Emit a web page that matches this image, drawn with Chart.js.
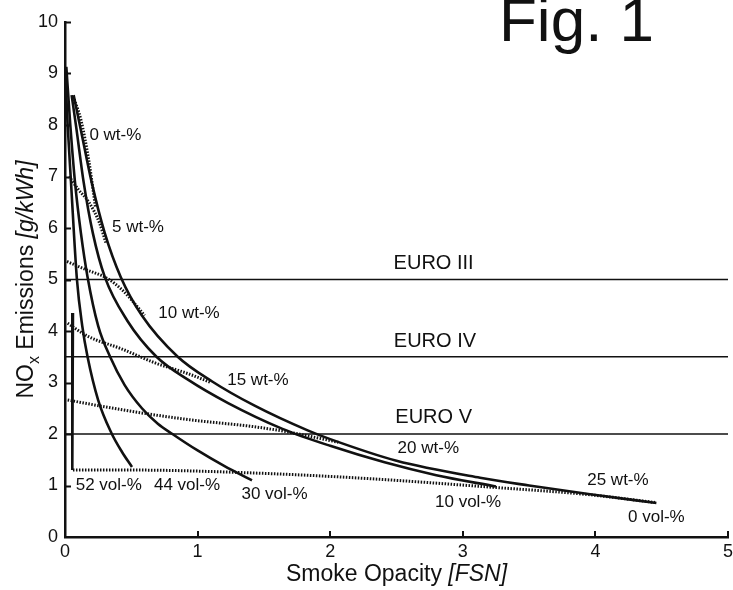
<!DOCTYPE html>
<html>
<head>
<meta charset="utf-8">
<script src="https://cdn.jsdelivr.net/npm/chart.js@4.4.1/dist/chart.umd.min.js"></script>
<style>
  html, body { margin: 0; padding: 0; background: #fff; }
  #wrap { width: 733px; height: 590px; }
</style>
</head>
<body>
<div id="wrap"><canvas id="nox" width="733" height="590"></canvas></div>
<script>
// NOx vs smoke opacity trade-off, Fig. 1

// solid curves: fuel blends (vol-%)
const vol52X = [0.06, 0.055];
const vol52Y = [4.35, 1.3];
const vol44X = [0.0, 0.02, 0.045, 0.09, 0.13, 0.17, 0.25, 0.35, 0.43, 0.505];
const vol44Y = [9.13, 8.0, 6.9, 5.0, 4.1, 3.5, 2.66, 2.02, 1.65, 1.36];
const vol30X = [0.01, 0.04, 0.075, 0.12, 0.17, 0.25, 0.34, 0.45, 0.58, 0.7, 0.81, 1.0, 1.2, 1.41];
const vol30Y = [9.13, 8.0, 6.9, 5.9, 5.05, 4.1, 3.5, 2.95, 2.5, 2.2, 2.0, 1.68, 1.38, 1.1];
const vol10X = [0.05, 0.085, 0.14, 0.21, 0.3, 0.47, 0.69, 0.93, 1.23, 1.64, 2.0, 2.41, 2.8, 3.25];
const vol10Y = [8.58, 7.95, 6.9, 5.9, 5.05, 4.2, 3.5, 3.05, 2.6, 2.1, 1.77, 1.45, 1.2, 0.98];
const vol0X = [0.065, 0.12, 0.2, 0.3, 0.42, 0.58, 0.85, 1.11, 1.43, 1.83, 2.0, 2.5, 3.13, 3.5, 3.96, 4.46];
const vol0Y = [8.58, 7.9, 6.9, 5.9, 5.05, 4.3, 3.5, 3.02, 2.55, 2.07, 1.9, 1.48, 1.15, 1.0, 0.83, 0.66];

// dotted lines: water content (wt-%)
const wt0X = [0.07, 0.12, 0.18, 0.23];
const wt0Y = [8.5, 8.1, 7.3, 6.4];
const wt5X = [0.03, 0.1, 0.18, 0.26, 0.31];
const wt5Y = [7.0, 6.75, 6.5, 6.1, 5.7];
const wt10X = [0.015, 0.15, 0.32, 0.43, 0.53, 0.6];
const wt10Y = [5.35, 5.2, 5.02, 4.8, 4.52, 4.3];
const wt15X = [0.02, 0.17, 0.43, 0.68, 0.93, 1.1];
const wt15Y = [4.15, 3.9, 3.65, 3.38, 3.17, 3.0];
const wt20X = [0.02, 0.43, 0.93, 1.43, 1.68, 2.06];
const wt20Y = [2.66, 2.47, 2.28, 2.14, 2.04, 1.84];
const wt25X = [0.06, 0.5, 1.45, 2.25, 3.2, 3.96, 4.45];
const wt25Y = [1.3, 1.3, 1.24, 1.14, 0.97, 0.82, 0.67];

// emission limits
const euroNames = ['EURO III', 'EURO IV', 'EURO V'];
const euroLimits = [5, 3.5, 2];

// text labels, anchored in data units
const curveLabels = [
  { text: '0 wt-%', x: 0.38, y: 7.8 },
  { text: '5 wt-%', x: 0.55, y: 6.02 },
  { text: '10 wt-%', x: 0.935, y: 4.35 },
  { text: '15 wt-%', x: 1.455, y: 3.05 },
  { text: '20 wt-%', x: 2.74, y: 1.73 },
  { text: '25 wt-%', x: 4.17, y: 1.1 },
  { text: '52 vol-%', x: 0.33, y: 1.01 },
  { text: '44 vol-%', x: 0.92, y: 1.01 },
  { text: '30 vol-%', x: 1.58, y: 0.82 },
  { text: '10 vol-%', x: 3.04, y: 0.68 },
  { text: '0 vol-%', x: 4.46, y: 0.39 }
];
const euroLabelX = [2.78, 2.79, 2.78];
const euroLabelY = [5.32, 3.79, 2.33];

const ink = '#111';
const face = "'Liberation Sans', Arial, Helvetica, sans-serif";

const pts = (xs, ys) => xs.map((v, i) => ({ x: v, y: ys[i] }));

function solid(xs, ys) {
  return { data: pts(xs, ys), showLine: true, borderColor: ink, borderWidth: 2.6,
           pointRadius: 0, cubicInterpolationMode: 'monotone', fill: false };
}
function dotted(xs, ys) {
  return { data: pts(xs, ys), showLine: true, borderColor: ink, borderWidth: 3,
           borderDash: [1.5, 1.5], pointRadius: 0, cubicInterpolationMode: 'monotone', fill: false };
}

const datasets = [
  ...euroLimits.map(v => ({ data: [{ x: 0, y: v }, { x: 5, y: v }], showLine: true,
                            borderColor: ink, borderWidth: 1.5, pointRadius: 0 })),
  dotted(wt0X, wt0Y), dotted(wt5X, wt5Y), dotted(wt10X, wt10Y),
  dotted(wt15X, wt15Y), dotted(wt20X, wt20Y), dotted(wt25X, wt25Y),
  { ...solid(vol52X, vol52Y), cubicInterpolationMode: 'default', tension: 0 },
  solid(vol44X, vol44Y), solid(vol30X, vol30Y), solid(vol10X, vol10Y), solid(vol0X, vol0Y)
];

function drawRuns(ctx, runs, x, y) {
  const total = runs.reduce((s, r) => { ctx.font = r.font; return s + ctx.measureText(r.t).width; }, 0);
  let cx = x - total / 2;
  runs.forEach(r => {
    ctx.font = r.font;
    ctx.fillText(r.t, cx, y + (r.dy || 0));
    cx += ctx.measureText(r.t).width;
  });
}

const decor = {
  id: 'decor',
  afterDraw(chart) {
    const { ctx, chartArea: a, scales: { x, y } } = chart;
    ctx.save();
    ctx.strokeStyle = ink;
    ctx.fillStyle = ink;
    ctx.lineWidth = 2;

    // inward tick marks
    y.ticks.forEach(t => {
      if (t.value === 0) return;
      const py = Math.round(y.getPixelForValue(t.value)) + 0.5;
      ctx.beginPath(); ctx.moveTo(a.left, py); ctx.lineTo(a.left + 6, py); ctx.stroke();
    });
    x.ticks.forEach(t => {
      if (t.value === 0) return;
      const px = Math.round(x.getPixelForValue(t.value));
      ctx.beginPath(); ctx.moveTo(px, a.bottom); ctx.lineTo(px, a.bottom - 6); ctx.stroke();
    });

    // curve labels
    ctx.textAlign = 'center';
    ctx.textBaseline = 'middle';
    ctx.font = '17px ' + face;
    curveLabels.forEach(l => ctx.fillText(l.text, x.getPixelForValue(l.x), y.getPixelForValue(l.y)));
    ctx.font = '20px ' + face;
    euroNames.forEach((n, i) => ctx.fillText(n, x.getPixelForValue(euroLabelX[i]), y.getPixelForValue(euroLabelY[i])));

    // axis titles
    ctx.textAlign = 'left';
    ctx.textBaseline = 'alphabetic';
    drawRuns(ctx, [
      { t: 'Smoke Opacity ', font: '23px ' + face },
      { t: '[FSN]', font: 'italic 23px ' + face }
    ], (a.left + a.right) / 2, 581);

    ctx.save();
    ctx.translate(33, (a.top + a.bottom) / 2);
    ctx.rotate(-Math.PI / 2);
    drawRuns(ctx, [
      { t: 'NO', font: '23px ' + face },
      { t: 'x', font: '16px ' + face, dy: 6 },
      { t: ' Emissions ', font: '23px ' + face },
      { t: '[g/kWh]', font: 'italic 23px ' + face }
    ], 0, 0);
    ctx.restore();

    // figure caption
    ctx.font = '62px ' + face;
    ctx.fillText('Fig. 1', 499, 41);
    ctx.restore();
  }
};

new Chart(document.getElementById('nox'), {
  type: 'scatter',
  data: { datasets },
  options: {
    responsive: false,
    animation: false,
    devicePixelRatio: 1,
    layout: { padding: { top: 22, right: 5, left: 0, bottom: 0 } },
    plugins: { legend: { display: false }, tooltip: { enabled: false } },
    scales: {
      x: {
        type: 'linear', min: 0, max: 5,
        grid: { display: false, drawTicks: false },
        border: { display: true, color: ink, width: 2.5 },
        ticks: { stepSize: 1, padding: 4, color: ink, font: { family: face, size: 18 }, maxRotation: 0 },
        afterFit: s => { s.height = 53; s.paddingLeft = 0; s.paddingRight = 0; }
      },
      y: {
        type: 'linear', min: 0, max: 10,
        grid: { display: false, drawTicks: false },
        border: { display: true, color: ink, width: 2.5 },
        ticks: { stepSize: 1, padding: 7, color: ink, font: { family: face, size: 18 } },
        afterFit: s => { s.width = 65; }
      }
    }
  },
  plugins: [decor]
});
</script>
</body>
</html>
